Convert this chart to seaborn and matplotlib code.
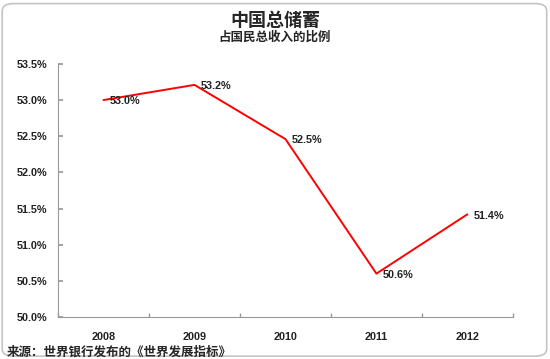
import matplotlib
matplotlib.use("Agg")
import matplotlib.pyplot as plt
import seaborn as sns
import pandas as pd
from matplotlib.patches import FancyBboxPatch

years = ["2008", "2009", "2010", "2011", "2012"]
savings = [53.0, 53.21, 52.46, 50.6, 51.42]
labels = ["53.0%", "53.2%", "52.5%", "50.6%", "51.4%"]
yticks = [50.0, 50.5, 51.0, 51.5, 52.0, 52.5, 53.0, 53.5]

sns.set_theme(style="white")
plt.rcParams["font.family"] = ["Noto Sans CJK SC", "DejaVu Sans"]

df = pd.DataFrame({"year": years, "value": savings})
num_font = "Liberation Sans"

fig = plt.figure(figsize=(5.5, 3.59), dpi=100)
fig.patches.append(FancyBboxPatch((0.004, 0.008), 0.99, 0.982, boxstyle="round,pad=0,rounding_size=0.02",
                                  transform=fig.transFigure, fill=False, edgecolor="#c4c4c4", linewidth=1.2))
ax = fig.add_axes([0.1055, 0.117, 0.827, 0.705])
sns.lineplot(data=df, x="year", y="value", color="#ff0000", linewidth=1.4, ax=ax)

ax.set_xlim(-0.5, 4.5)
ax.set_ylim(50.0, 53.5)
ax.set_yticks(yticks)
ax.set_yticklabels([f"{v:.1f}%" for v in yticks], fontsize=7.8, fontweight="bold", family=num_font, color="#222222")
ax.set_xticks(range(len(years)))
ax.set_xticklabels(years, fontsize=7.8, fontweight="bold", family=num_font, color="#222222")
ax.set_xticks([i - 0.5 for i in range(len(years) + 1)], minor=True)
ax.tick_params(axis="x", which="major", length=0, pad=11)
ax.tick_params(axis="x", which="minor", length=3, color="#999999", direction="in", bottom=True)
ax.tick_params(axis="y", length=3.5, color="#999999", direction="in", left=True, pad=8)
ax.set_xlabel("")
ax.set_ylabel("")
for s in ["top", "right"]:
    ax.spines[s].set_visible(False)
for s in ["left", "bottom"]:
    ax.spines[s].set_color("#999999")
    ax.spines[s].set_linewidth(0.8)

for i, (v, lab) in enumerate(zip(savings, labels)):
    ax.annotate(lab, (i, v), xytext=(4.5, -1), textcoords="offset points",
                fontsize=7.8, fontweight="bold", family=num_font, ha="left", va="center", color="#222222")

fig.text(0.5, 0.944, "中国总储蓄", ha="center", va="center", fontsize=13, fontweight="bold")
fig.text(0.5, 0.897, "占国民总收入的比例", ha="center", va="center", fontsize=9, fontweight="bold")
fig.text(0.012, 0.02, "来源：世界银行发布的《世界发展指标》", ha="left", va="center", fontsize=9, fontweight="bold")

fig.savefig("out.png", dpi=100)
